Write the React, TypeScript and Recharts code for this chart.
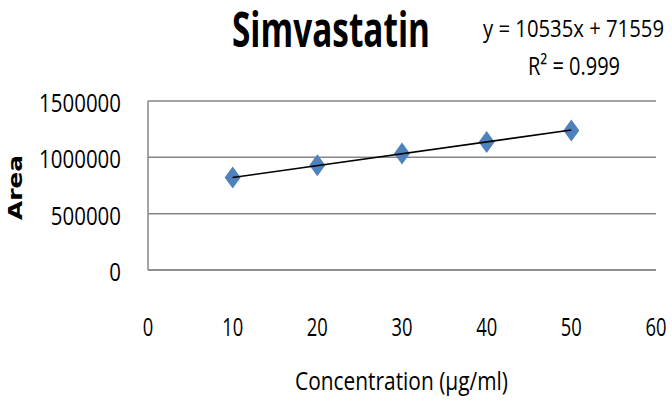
import React from 'react';
import {
  CartesianGrid,
  Scatter,
  ScatterChart,
  XAxis,
  YAxis,
} from 'recharts';

// calibration standards: concentration (µg/ml) vs peak area
const concentrations = [10, 20, 30, 40, 50];
const areas = [820000, 929000, 1033000, 1137000, 1239000];

// fitted line, drawn between the lowest and highest standard
const trendX = [10, 50];
const trendY = [820900, 1242300];

const xTicks = [0, 10, 20, 30, 40, 50, 60];
const yTicks = [0, 500000, 1000000, 1500000];

const chartTitle = 'Simvastatin';
const equationText = 'y = 10535x + 71559';
const rSquaredText = 'R² = 0.999';
const xTitle = 'Concentration (µg/ml)';
const yTitle = 'Area';

const points = concentrations.map((x, i) => ({ x, y: areas[i] }));
const trend = trendX.map((x, i) => ({ x, y: trendY[i] }));

const FONT = '"Open Sans", "Noto Sans", sans-serif';
const GRID = '#868686';
const MARKER = '#4F81BD';

if (typeof document !== 'undefined') {
  document.body.style.margin = '0';
}

function Diamond(props: any) {
  const { cx, cy } = props;
  if (cx == null || cy == null) return null;
  const w = 8;
  const h = 11;
  return (
    <polygon
      points={`${cx},${cy - h} ${cx + w},${cy} ${cx},${cy + h} ${cx - w},${cy}`}
      fill={MARKER}
    />
  );
}

function YTick(props: any) {
  const { x, y, payload } = props;
  const label = String(payload.value);
  return (
    <text
      x={x}
      y={y + 11}
      textAnchor='end'
      fontFamily={FONT}
      fontSize={26}
      fill='#000'
      textLength={label.length * 11.7}
      lengthAdjust='spacingAndGlyphs'
    >
      {label}
    </text>
  );
}

function XTick(props: any) {
  const { x, y, payload } = props;
  const label = String(payload.value);
  return (
    <text
      x={x}
      y={y + 58}
      textAnchor='middle'
      fontFamily={FONT}
      fontSize={25}
      fill='#000'
      textLength={label.length * 10.5}
      lengthAdjust='spacingAndGlyphs'
    >
      {label}
    </text>
  );
}

export default function App() {
  return (
    <div style={{ position: 'relative', width: 672, height: 408, background: '#fff' }}>
      <ScatterChart
        width={672}
        height={408}
        margin={{ top: 101, right: 16, bottom: 0, left: 0 }}
      >
        <CartesianGrid vertical={false} stroke={GRID} strokeWidth={1.5} />
        <XAxis
          type='number'
          dataKey='x'
          domain={[0, 60]}
          ticks={xTicks}
          height={138}
          axisLine={{ stroke: GRID, strokeWidth: 1.5 }}
          tickLine={false}
          tick={<XTick />}
          interval={0}
        />
        <YAxis
          type='number'
          dataKey='y'
          domain={[0, 1500000]}
          ticks={yTicks}
          width={148}
          axisLine={{ stroke: GRID, strokeWidth: 1.5 }}
          tickLine={false}
          tickMargin={21}
          tick={<YTick />}
          interval={0}
        />
        <Scatter data={points} shape={<Diamond />} isAnimationActive={false} />
        <Scatter
          data={trend}
          line={{ stroke: '#000', strokeWidth: 1.6 }}
          shape={() => <g />}
          isAnimationActive={false}
        />
      </ScatterChart>
      <svg
        width={672}
        height={408}
        style={{ position: 'absolute', left: 0, top: 0, pointerEvents: 'none' }}
      >
        <text
          x={331}
          y={47}
          textAnchor='middle'
          fontFamily={FONT}
          fontWeight='bold'
          fontSize={49}
          textLength={198}
          lengthAdjust='spacingAndGlyphs'
        >
          {chartTitle}
        </text>
        <text
          x={573.5}
          y={37}
          textAnchor='middle'
          fontFamily={FONT}
          fontSize={24}
          textLength={181}
          lengthAdjust='spacingAndGlyphs'
        >
          {equationText}
        </text>
        <text
          x={574}
          y={75}
          textAnchor='middle'
          fontFamily={FONT}
          fontSize={25}
          textLength={92}
          lengthAdjust='spacingAndGlyphs'
        >
          {rSquaredText}
        </text>
        <text
          x={401.5}
          y={390}
          textAnchor='middle'
          fontFamily={FONT}
          fontSize={25}
          textLength={213}
          lengthAdjust='spacingAndGlyphs'
        >
          {xTitle}
        </text>
        <text
          x={22}
          y={187.5}
          transform='rotate(-90 22 187.5)'
          textAnchor='middle'
          fontFamily='"DejaVu Sans", sans-serif'
          fontWeight='bold'
          fontSize={20}
          textLength={65}
          lengthAdjust='spacingAndGlyphs'
        >
          {yTitle}
        </text>
      </svg>
    </div>
  );
}
